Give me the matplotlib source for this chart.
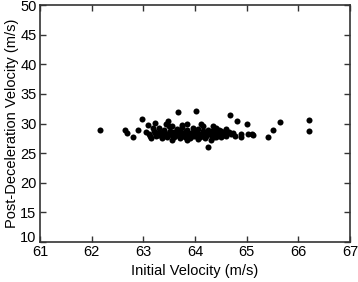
import matplotlib
matplotlib.use("Agg")
import matplotlib.pyplot as plt
import matplotlib.transforms as mtransforms

# outliers
x_out = [62.16, 62.64, 62.68, 62.80, 62.90, 62.97, 63.08, 63.22, 63.47,
         63.66, 64.01, 64.24, 64.67, 64.82, 65.00, 64.88, 64.88, 65.03,
         65.10, 65.13, 65.42, 65.50, 65.65, 66.21, 66.21]
y_out = [28.9, 28.9, 28.4, 27.7, 28.9, 30.7, 29.7, 30.1, 30.4,
         31.9, 32.1, 26.0, 31.4, 30.4, 29.9, 28.2, 27.7, 28.2,
         28.2, 28.0, 27.7, 28.9, 30.2, 30.6, 28.7]

# dense cluster
x_core = [63.10, 63.15, 63.20, 63.25, 63.30, 63.30, 63.35, 63.40, 63.40, 63.45,
          63.50, 63.50, 63.55, 63.55, 63.60, 63.60, 63.65, 63.65, 63.70, 63.70,
          63.75, 63.75, 63.80, 63.80, 63.85, 63.85, 63.90, 63.90, 63.95, 63.95,
          64.00, 64.00, 64.05, 64.05, 64.10, 64.10, 64.15, 64.15, 64.20, 64.20,
          64.25, 64.30, 64.30, 64.35, 64.40, 64.40, 64.45, 64.50, 64.50, 64.55,
          64.60, 64.60, 64.65, 64.70, 63.12, 63.28, 63.38, 63.48, 63.58, 63.68,
          63.72, 63.78, 63.82, 63.88, 63.92, 63.98, 64.02, 64.08, 64.12, 64.18,
          64.22, 64.28, 64.32, 64.38, 64.42, 64.48, 64.52, 64.58, 63.62, 63.52,
          63.42, 63.32, 63.22, 63.86, 63.96, 64.06, 64.16, 64.26, 64.36, 64.46,
          64.74, 64.78, 63.05, 63.18, 63.44, 63.74, 64.12, 64.34, 63.56, 63.84]
y_core = [28.2, 27.6, 28.8, 27.9, 28.5, 29.3, 27.5, 28.1, 28.9, 27.8,
          28.4, 29.6, 27.3, 28.0, 28.6, 27.7, 29.1, 28.2, 27.5, 28.8,
          28.0, 29.4, 27.8, 28.5, 27.2, 28.9, 28.2, 27.6, 29.2, 28.6,
          27.9, 28.4, 27.4, 29.0, 28.1, 27.7, 28.7, 29.5, 28.3, 27.6,
          28.9, 28.0, 27.3, 28.5, 29.2, 27.8, 28.3, 28.7, 27.7, 28.1,
          29.0, 27.9, 28.5, 28.2, 27.9, 28.0, 28.6, 28.0, 28.3, 27.9,
          28.4, 28.2, 28.7, 28.0, 28.4, 28.1, 28.7, 28.3, 28.0, 28.5,
          27.9, 28.4, 28.7, 28.0, 28.5, 28.0, 28.3, 28.6, 28.1, 28.7,
          28.3, 28.0, 28.4, 28.3, 27.9, 28.2, 28.0, 28.6, 27.7, 28.9,
          28.4, 27.9, 28.6, 29.2, 30.0, 29.8, 29.9, 29.6, 29.5, 30.0]

plt.rcParams['font.family'] = ['Liberation Sans', 'DejaVu Sans']

fig = plt.figure(figsize=(3.58, 2.82), dpi=100)
ax = fig.add_axes([0.112, 0.142, 0.866, 0.840])

ax.scatter(x_out + x_core, y_out + y_core, s=19, c='black', linewidths=0)

ax.set_xlim(61, 67)
ax.set_ylim(10, 50)
ax.set_xticks(range(61, 68))
ax.set_yticks(range(10, 51, 5))
ax.set_xlabel("Initial Velocity (m/s)", fontsize=10.5, labelpad=3)
ax.set_ylabel("Post-Deceleration Velocity (m/s)", fontsize=10.5, labelpad=1)
ax.tick_params(direction='in', top=True, right=True, length=4, width=1,
               labelsize=10.5, pad=2.5, color='#333333')
for sp in ax.spines.values():
    sp.set_linewidth(1.2)
    sp.set_color('#333333')

# lift the lowest y label a little so it clears the "61" below it
lowest = ax.get_yticklabels()[0]
lowest.set_transform(lowest.get_transform() +
                     mtransforms.ScaledTranslation(0, 4 / 72, fig.dpi_scale_trans))

fig.savefig("out.png", dpi=100)
